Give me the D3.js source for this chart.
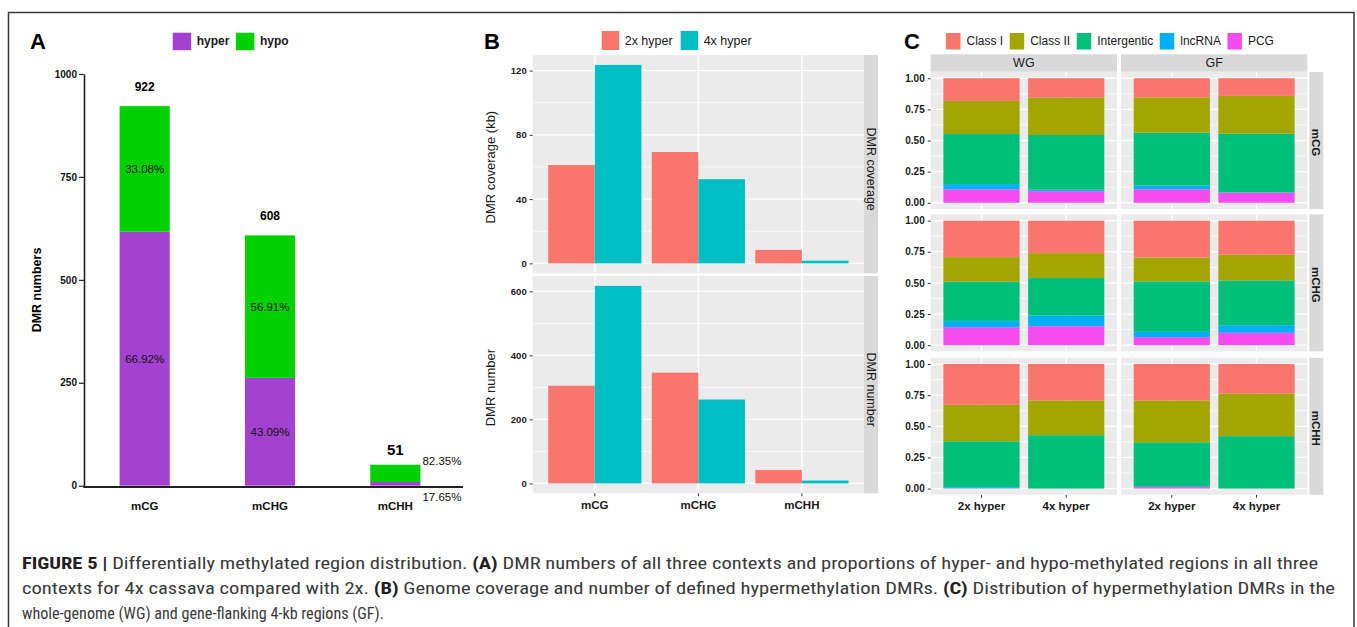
<!DOCTYPE html>
<html>
<head>
<meta charset="utf-8">
<script src="https://cdn.jsdelivr.net/npm/d3@7"></script>
<style>
body { margin: 0; background: #fff; }
svg { display: block; font-family: "Liberation Sans", Arial, sans-serif; }
</style>
</head>
<body>
<script>
// ---- data ----
const contexts = ["mCG", "mCHG", "mCHH"];
const dmrTotal = [922, 608, 51];
const hyperCount = [617, 262, 9];
const hypoCount = [305, 346, 42];
const hyperPct = ["66.92%", "43.09%", "17.65%"];
const hypoPct = ["33.08%", "56.91%", "82.35%"];
const aTicks = [0, 250, 500, 750, 1000];

const groups = ["2x hyper", "4x hyper"];
const coverage2x = [61.2, 69.3, 8.4];
const coverage4x = [123.5, 52.4, 1.7];
const number2x = [305, 346, 42];
const number4x = [617, 262, 9];
const coverageTicks = [0, 40, 80, 120];
const numberTicks = [0, 200, 400, 600];

const classes = ["Class I", "Class II", "Intergentic", "lncRNA", "PCG"];
const regions = ["WG", "GF"];
const propTicks = [0, 0.25, 0.5, 0.75, 1];
// proportions per sample [2x hyper, 4x hyper], in class order
const wgMCG = [[0.182, 0.266, 0.402, 0.042, 0.108], [0.156, 0.300, 0.439, 0.011, 0.094]];
const gfMCG = [[0.153, 0.284, 0.426, 0.029, 0.108], [0.142, 0.303, 0.472, 0.003, 0.080]];
const wgMCHG = [[0.293, 0.197, 0.315, 0.051, 0.144], [0.261, 0.200, 0.301, 0.086, 0.152]];
const gfMCHG = [[0.296, 0.192, 0.405, 0.043, 0.064], [0.274, 0.206, 0.360, 0.061, 0.099]];
const wgMCHH = [[0.327, 0.293, 0.369, 0.008, 0.003], [0.292, 0.279, 0.429, 0, 0]];
const gfMCHH = [[0.292, 0.336, 0.357, 0.003, 0.012], [0.238, 0.341, 0.421, 0, 0]];

const W = 1357, H = 627;
const svg = d3.select("body").append("svg").attr("width", W).attr("height", H);

svg.append("rect")
	.attr("x", 8.5).attr("y", 12.5)
	.attr("width", 1345.5).attr("height", 700)
	.attr("fill", "#fff").attr("stroke", "#3a3a3a").attr("stroke-width", 1.5);

function legend(g, labels, colors, x0, yTop, sw, sh, gapText, gapItem, fs, fw) {
	let x = x0;
	labels.forEach((lab, i) => {
		g.append("rect").attr("x", x).attr("y", yTop).attr("width", sw).attr("height", sh).attr("fill", colors[i]);
		const t = g.append("text")
			.attr("x", x + sw + gapText).attr("y", yTop + sh / 2)
			.attr("dominant-baseline", "central")
			.style("font-size", fs + "px").style("font-weight", fw).attr("fill", "#1a1a1a")
			.text(lab);
		x += sw + gapText + t.node().getComputedTextLength() + gapItem;
	});
}

function letter(x, txt) {
	svg.append("text").attr("x", x).attr("y", 49)
		.style("font-size", "22px").style("font-weight", "bold").text(txt);
}

// ---- panel A ----
const gA = svg.append("g");
letter(30, "A");
legend(gA, ["hyper", "hypo"], ["#a342d1", "#00d100"], 172.7, 32.7, 18.5, 17.5, 5.5, 6.5, 12, "bold");

const xA = d3.scaleBand().domain(contexts).range([82, 458]).paddingInner(0.6).paddingOuter(0.3);
const yA = d3.scaleLinear().domain([0, 1000]).range([485.7, 74]);

const rowsA = contexts.map((c, i) => ({ ctx: c, hyper: hyperCount[i], hypo: hypoCount[i] }));
const stackA = d3.stack().keys(["hyper", "hypo"])(rowsA);
const colA = { hyper: "#a342d1", hypo: "#00d100" };

gA.selectAll("g.layer").data(stackA).enter().append("g")
	.attr("fill", (d) => colA[d.key])
	.selectAll("rect").data((d) => d).enter().append("rect")
	.attr("x", (d) => xA(d.data.ctx))
	.attr("width", xA.bandwidth())
	.attr("y", (d) => yA(d[1]))
	.attr("height", (d) => yA(d[0]) - yA(d[1]));

const axA = gA.append("g").attr("transform", "translate(84,0)")
	.call(d3.axisLeft(yA).tickValues(aTicks).tickFormat(d3.format("d")).tickSize(5).tickSizeOuter(0).tickPadding(2));
axA.select(".domain").attr("stroke", "#222").attr("stroke-width", 1.6);
axA.selectAll(".tick line").attr("stroke", "#222").attr("stroke-width", 1.2);
axA.selectAll("text").style("font-size", "10px").style("font-weight", "bold")
	.style("font-family", "Liberation Sans, Arial, sans-serif").attr("fill", "#111");

gA.append("line").attr("x1", 83.2).attr("x2", 463).attr("y1", 487).attr("y2", 487)
	.attr("stroke", "#222").attr("stroke-width", 1.8);

const axAx = gA.append("g").attr("transform", "translate(0,487)")
	.call(d3.axisBottom(xA).tickSize(0).tickPadding(15));
axAx.select(".domain").remove();
axAx.selectAll("text").style("font-size", "11.5px").style("font-weight", "bold")
	.style("font-family", "Liberation Sans, Arial, sans-serif").attr("fill", "#111");

gA.append("text").attr("transform", "translate(41,290) rotate(-90)")
	.attr("text-anchor", "middle").style("font-size", "12.5px").style("font-weight", "bold")
	.text("DMR numbers");

// totals
gA.selectAll("text.total").data(contexts).enter().append("text")
	.attr("x", (c) => xA(c) + xA.bandwidth() / 2)
	.attr("y", (c, i) => yA(dmrTotal[i]) - (i === 2 ? 10 : 15))
	.attr("text-anchor", "middle")
	.style("font-size", (c, i) => (i === 2 ? "15px" : "12px"))
	.style("font-weight", "bold")
	.text((c, i) => dmrTotal[i]);

// percentages
contexts.forEach((c, i) => {
	const cx = xA(c) + xA.bandwidth() / 2;
	const inside = i < 2;
	const pct = [
		{ txt: hyperPct[i], y: inside ? (yA(0) + yA(hyperCount[i])) / 2 : yA(0) + 11 },
		{ txt: hypoPct[i], y: inside ? (yA(hyperCount[i]) + yA(dmrTotal[i])) / 2 : yA(dmrTotal[i]) - 3.5 }
	];
	pct.forEach((p) => {
		gA.append("text")
			.attr("x", inside ? cx : xA(c) + xA.bandwidth() + 2)
			.attr("y", p.y)
			.attr("dominant-baseline", "central")
			.attr("text-anchor", inside ? "middle" : "start")
			.style("font-size", "11.5px").attr("fill", "#111")
			.text(p.txt);
	});
});

// ---- panel B ----
const gB = svg.append("g");
letter(484, "B");
const colB = ["#f8766d", "#00bfc4"];
legend(gB, groups, colB, 601.7, 31, 17.5, 19, 5.5, 8, 12.5, "normal");

const bLeft = 532.7, bRight = 864;
const xB = d3.scaleBand().domain(contexts).range([bLeft, bRight]).paddingInner(0.1).paddingOuter(0.15);
const xBsub = d3.scaleBand().domain(groups).range([0, xB.bandwidth()]);

const bPanels = [
	{ strip: "DMR coverage", title: "DMR coverage (kb)", v: [coverage2x, coverage4x], ticks: coverageTicks, top: 55, bottom: 273.3 },
	{ strip: "DMR number", title: "DMR number", v: [number2x, number4x], ticks: numberTicks, top: 276, bottom: 493.3 }
];

bPanels.forEach((p) => {
	const mx = d3.max(p.v.flat());
	const y = d3.scaleLinear().domain([-0.05 * mx, 1.05 * mx]).range([p.bottom, p.top]);
	const step = p.ticks[1] - p.ticks[0];
	const minor = p.ticks.slice(0, -1).map((t) => t + step / 2);
	const g = gB.append("g");
	g.append("rect").attr("x", bLeft).attr("y", p.top).attr("width", bRight - bLeft).attr("height", p.bottom - p.top).attr("fill", "#ebebeb");
	g.selectAll("line.minor").data(minor).enter().append("line")
		.attr("x1", bLeft).attr("x2", bRight).attr("y1", (d) => y(d)).attr("y2", (d) => y(d))
		.attr("stroke", "#fff").attr("stroke-width", 0.7);
	g.selectAll("line.major").data(p.ticks).enter().append("line")
		.attr("x1", bLeft).attr("x2", bRight).attr("y1", (d) => y(d)).attr("y2", (d) => y(d))
		.attr("stroke", "#fff").attr("stroke-width", 1.3);
	g.selectAll("line.vert").data(contexts).enter().append("line")
		.attr("x1", (c) => xB(c) + xB.bandwidth() / 2).attr("x2", (c) => xB(c) + xB.bandwidth() / 2)
		.attr("y1", p.top).attr("y2", p.bottom).attr("stroke", "#fff").attr("stroke-width", 1.3);

	groups.forEach((grp, gi) => {
		g.selectAll("rect.b" + gi).data(contexts).enter().append("rect")
			.attr("x", (c) => xB(c) + xBsub(grp))
			.attr("width", xBsub.bandwidth())
			.attr("y", (c, i) => y(p.v[gi][i]))
			.attr("height", (c, i) => y(0) - y(p.v[gi][i]))
			.attr("fill", colB[gi]);
	});

	const ax = g.append("g").attr("transform", `translate(${bLeft},0)`)
		.call(d3.axisLeft(y).tickValues(p.ticks).tickSize(3).tickPadding(3));
	ax.select(".domain").remove();
	ax.selectAll(".tick line").attr("stroke", "#333");
	ax.selectAll("text").style("font-size", "9.5px").style("font-weight", "bold")
		.style("font-family", "Liberation Sans, Arial, sans-serif").attr("fill", "#1a1a1a");

	g.append("rect").attr("x", bRight).attr("y", p.top).attr("width", 14).attr("height", p.bottom - p.top).attr("fill", "#d9d9d9");
	g.append("text").attr("transform", `translate(${bRight + 7},${(p.top + p.bottom) / 2 + 5}) rotate(90)`)
		.attr("text-anchor", "middle").attr("dominant-baseline", "central")
		.style("font-size", "12.5px").attr("fill", "#1a1a1a").text(p.strip);

	g.append("text").attr("transform", `translate(494.5,${(p.top + p.bottom) / 2 + 3}) rotate(-90)`)
		.attr("text-anchor", "middle").style("font-size", "13px").attr("fill", "#1a1a1a").text(p.title);
});

const axBx = gB.append("g").attr("transform", "translate(0,493.3)")
	.call(d3.axisBottom(xB).tickSize(3).tickPadding(5));
axBx.select(".domain").remove();
axBx.selectAll(".tick line").attr("stroke", "#333");
axBx.selectAll("text").style("font-size", "11.5px").style("font-weight", "bold")
	.style("font-family", "Liberation Sans, Arial, sans-serif").attr("fill", "#1a1a1a");

// ---- panel C ----
const gC = svg.append("g");
letter(904, "C");
const colC = ["#f8766d", "#a3a500", "#00bf7d", "#00b0f6", "#f54cf0"];
legend(gC, classes, colC, 946, 33, 14.5, 16.5, 6, 6.5, 12, "normal");

const colX = [930.7, 1121];
const colW = 186.3;
const rowTop = [72, 214.4, 357.8];
const rowH = 137;
const propData = [[wgMCG, gfMCG], [wgMCHG, gfMCHG], [wgMCHH, gfMCHH]];
const stackC = d3.stack().keys(d3.range(classes.length).reverse());

regions.forEach((reg, ci) => {
	gC.append("rect").attr("x", colX[ci]).attr("y", 54.3).attr("width", colW).attr("height", 17.4).attr("fill", "#d9d9d9");
	gC.append("text").attr("x", colX[ci] + colW / 2).attr("y", 63.3)
		.attr("text-anchor", "middle").attr("dominant-baseline", "central")
		.style("font-size", "12.5px").attr("fill", "#1a1a1a").text(reg);
});

contexts.forEach((ctx, ri) => {
	const y = d3.scaleLinear().domain([-0.05, 1.05]).range([rowTop[ri] + rowH, rowTop[ri]]);
	const minor = propTicks.slice(0, -1).map((t) => t + 0.125);
	regions.forEach((reg, ci) => {
		const x = d3.scaleBand().domain(groups).range([colX[ci], colX[ci] + colW]).paddingInner(0.1).paddingOuter(0.15);
		const g = gC.append("g");
		g.append("rect").attr("x", colX[ci]).attr("y", rowTop[ri]).attr("width", colW).attr("height", rowH).attr("fill", "#ebebeb");
		g.selectAll("line.minor").data(minor).enter().append("line")
			.attr("x1", colX[ci]).attr("x2", colX[ci] + colW).attr("y1", (d) => y(d)).attr("y2", (d) => y(d))
			.attr("stroke", "#fff").attr("stroke-width", 0.7);
		g.selectAll("line.major").data(propTicks).enter().append("line")
			.attr("x1", colX[ci]).attr("x2", colX[ci] + colW).attr("y1", (d) => y(d)).attr("y2", (d) => y(d))
			.attr("stroke", "#fff").attr("stroke-width", 1.3);
		g.selectAll("line.vert").data(groups).enter().append("line")
			.attr("x1", (s) => x(s) + x.bandwidth() / 2).attr("x2", (s) => x(s) + x.bandwidth() / 2)
			.attr("y1", rowTop[ri]).attr("y2", rowTop[ri] + rowH).attr("stroke", "#fff").attr("stroke-width", 1.3);

		const rows = propData[ri][ci].map((v, si) => Object.assign({ sample: groups[si] }, v));
		const series = stackC(rows);
		g.selectAll("g.layer").data(series).enter().append("g")
			.attr("fill", (d) => colC[d.key])
			.selectAll("rect").data((d) => d).enter().append("rect")
			.attr("x", (d) => x(d.data.sample))
			.attr("width", x.bandwidth())
			.attr("y", (d) => y(d[1]))
			.attr("height", (d) => Math.max(0, y(d[0]) - y(d[1])));

		if (ci === 0) {
			const ax = g.append("g").attr("transform", `translate(${colX[0]},0)`)
				.call(d3.axisLeft(y).tickValues(propTicks).tickFormat(d3.format(".2f")).tickSize(3).tickPadding(3));
			ax.select(".domain").remove();
			ax.selectAll(".tick line").attr("stroke", "#333");
			ax.selectAll("text").style("font-size", "10px").style("font-weight", "bold")
				.style("font-family", "Liberation Sans, Arial, sans-serif").attr("fill", "#1a1a1a");
		}
		if (ri === contexts.length - 1) {
			const ax = g.append("g").attr("transform", `translate(0,${rowTop[ri] + rowH})`)
				.call(d3.axisBottom(x).tickSize(3).tickPadding(4));
			ax.select(".domain").remove();
			ax.selectAll(".tick line").attr("stroke", "#333");
			ax.selectAll("text").style("font-size", "11.5px").style("font-weight", "bold")
				.style("font-family", "Liberation Sans, Arial, sans-serif").attr("fill", "#1a1a1a");
		}
	});
	gC.append("rect").attr("x", 1309.3).attr("y", rowTop[ri]).attr("width", 14).attr("height", rowH).attr("fill", "#d9d9d9");
	gC.append("text").attr("transform", `translate(1316.3,${rowTop[ri] + rowH / 2 + 2}) rotate(90)`)
		.attr("text-anchor", "middle").attr("dominant-baseline", "central")
		.style("font-size", "11.5px").style("font-weight", "bold").attr("fill", "#1a1a1a").text(ctx);
});

// ---- caption ----
const captionLines = [
	[["FIGURE 5 |", true], [" Differentially methylated region distribution. ", false], ["(A)", true],
		[" DMR numbers of all three contexts and proportions of hyper- and hypo-methylated regions in all three", false]],
	[["contexts for 4x cassava compared with 2x. ", false], ["(B)", true],
		[" Genome coverage and number of defined hypermethylation DMRs. ", false], ["(C)", true],
		[" Distribution of hypermethylation DMRs in the", false]],
	[["whole-genome (WG) and gene-flanking 4-kb regions (GF).", false]]
];
const captionWidth = [1296, 1313, 362];
captionLines.forEach((segs, li) => {
	const t = svg.append("text")
		.attr("x", 22).attr("y", 568.5 + li * 25)
		.attr("textLength", captionWidth[li]).attr("lengthAdjust", "spacingAndGlyphs")
		.style("font-family", "'Liberation Sans Narrow', 'Roboto Condensed', 'Liberation Sans', sans-serif")
		.style("font-size", "16px").attr("fill", "#3a3a3a");
	segs.forEach(([s, b]) => {
		t.append("tspan").style("font-weight", b ? "bold" : "normal").attr("fill", b ? "#222" : "#3a3a3a").text(s);
	});
});
</script>
</body>
</html>
